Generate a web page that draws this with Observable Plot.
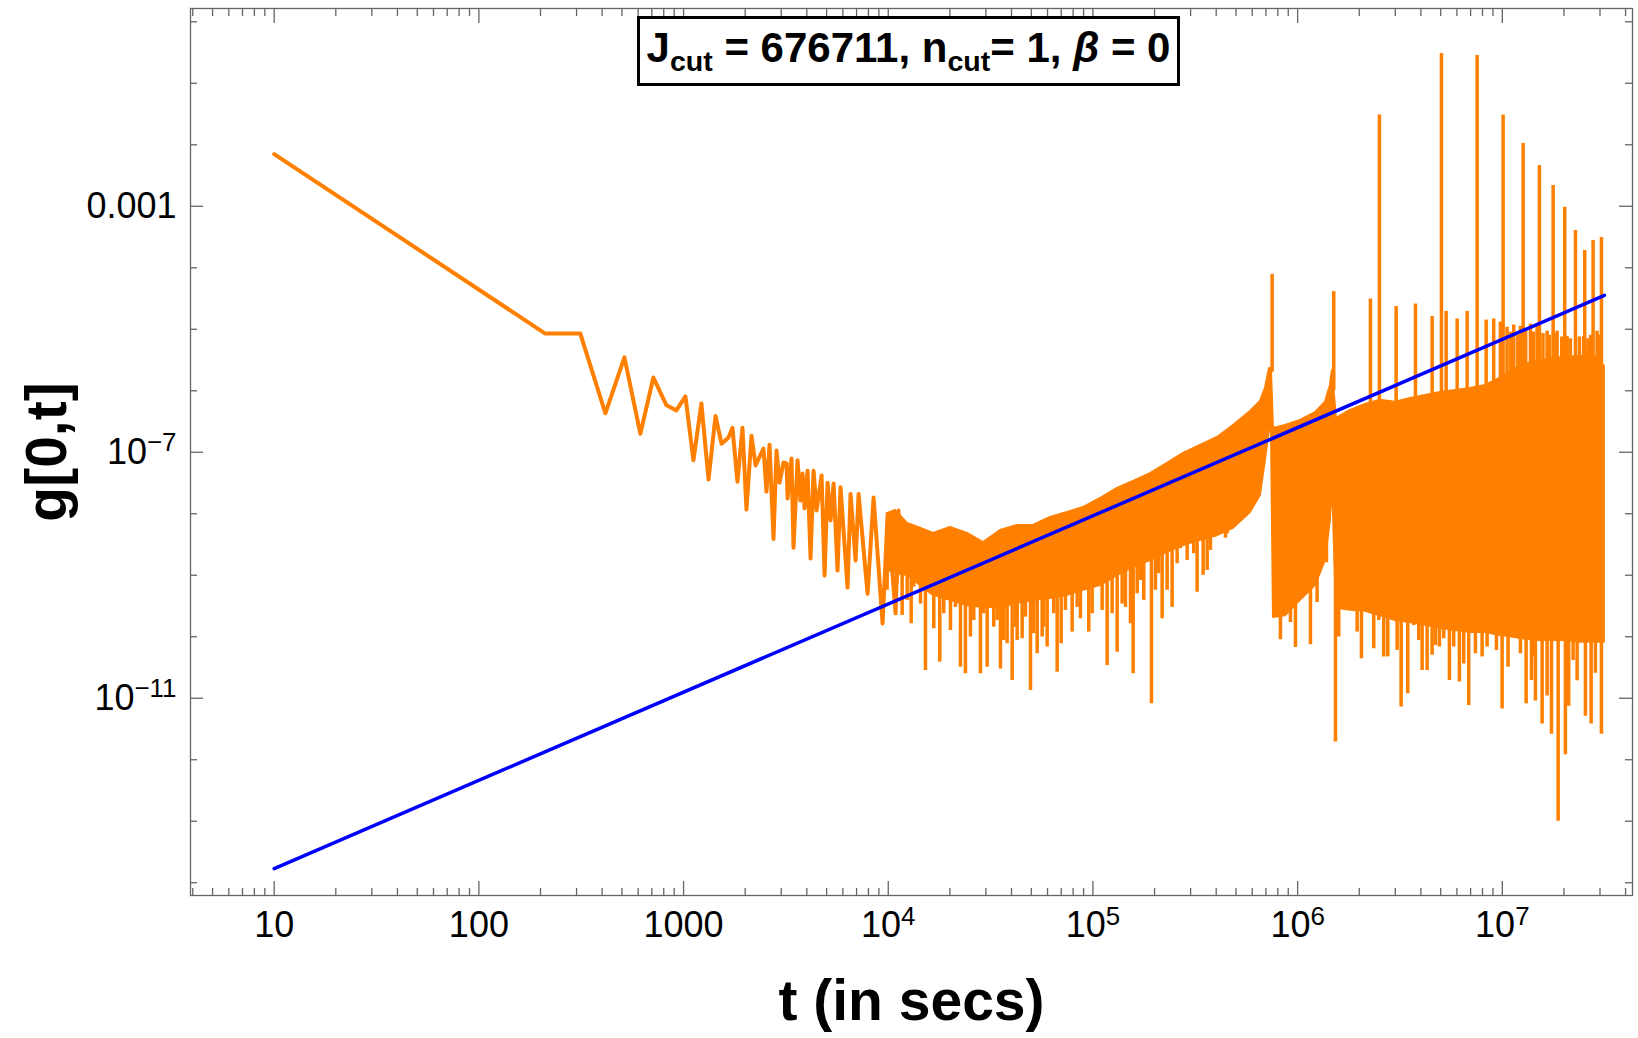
<!DOCTYPE html>
<html><head><meta charset="utf-8">
<script src="https://cdn.jsdelivr.net/npm/d3@7"></script>
<script src="https://cdn.jsdelivr.net/npm/@observablehq/plot@0.6"></script>
<style>
html,body{margin:0;padding:0;background:#fff;overflow:hidden;}
#wrap{position:relative;width:1638px;height:1038px;font-family:"Liberation Sans",Arial,sans-serif;}
#title{position:absolute;left:637px;top:16px;width:543px;height:70px;box-sizing:border-box;border:3px solid #000;background:#fff;font-weight:bold;font-size:42px;text-align:center;line-height:58px;white-space:nowrap;z-index:2;color:#000;}
#title .s{font-size:0.68em;position:relative;top:0.33em;}
</style></head>
<body><div id="wrap"><div id="title"><span>J<span class="s">cut</span> = 676711, n<span class="s">cut</span>= 1, <i>β</i> = 0</span></div></div>
<script>
// ---------- data ----------
// early part of g[0,t] (individual samples visible)
const earlyT = [10, 211, 313, 415, 514, 615, 712, 825, 922, 1021, 1117, 1222, 1324, 1432, 1532, 1657, 1733, 1833, 1940, 2029, 2147, 2248, 2457, 2541, 2630, 2750, 2845, 2943, 3078, 3185, 3221, 3367, 3444, 3605, 3724, 3811, 3900, 4034, 4172, 4316, 4465, 4722, 4885, 5053, 5227, 5407, 5651, 5845, 6325, 6542, 6923, 7161, 7925, 8477, 9382, 9930, 10860, 11230];
const earlyG = [7.06e-3, 8.5e-6, 8.5e-6, 4.3e-7, 3.5e-6, 2.0e-7, 1.64e-6, 5.8e-7, 4.8e-7, 8.1e-7, 7.4e-8, 6.2e-7, 3.6e-8, 3.9e-7, 1.38e-7, 1.73e-7, 2.5e-7, 3.3e-8, 2.5e-7, 1.17e-8, 1.86e-7, 6.1e-8, 1.15e-7, 2.3e-8, 1.33e-7, 3.9e-9, 1.07e-7, 3.2e-8, 6.8e-8, 6.6e-8, 1.77e-8, 7.9e-8, 2.8e-9, 7.4e-8, 1.64e-8, 4.5e-8, 1.22e-8, 5.0e-8, 1.87e-9, 5.0e-8, 1.13e-8, 4.2e-8, 9.9e-10, 3.2e-8, 7.8e-9, 3.1e-8, 1.19e-9, 2.7e-8, 6.3e-10, 2.1e-8, 1.73e-9, 2.1e-8, 5.0e-10, 1.83e-8, 1.64e-10, 1.0e-8, 2.4e-10, 1.13e-8];

// dense oscillating part: solid body envelope
const bodyT = [9930, 10845, 12413, 14365, 16630, 20130, 24370, 29190, 35330, 42780, 51210, 62000, 75070, 89870, 108800, 131700, 157700, 190900, 231200, 276800, 335100, 405700, 485700, 588000, 658000, 696000, 728200, 744800,
  761800, 871700, 1.032e6, 1.222e6, 1.367e6, 1.446e6, 1.479e6,
  1.547e6, 1.811e6, 2.144e6, 2.538e6, 3.005e6, 3.557e6, 4.210e6, 4.984e6, 5.901e6, 6.987e6, 8.271e6, 9.789e6, 1.095e7, 1.226e7, 1.451e7, 1.718e7, 2.033e7, 2.407e7, 2.850e7, 3.153e7];
const bodyTop = [1.0e-8, 1.13e-8, 6.95e-9, 5.8e-9, 4.8e-9, 6.0e-9, 4.8e-9, 3.4e-9, 5.35e-9, 6.45e-9, 6.45e-9, 8.7e-9, 1.05e-8, 1.26e-8, 1.77e-8, 2.58e-8, 3.35e-8, 4.5e-8, 6.6e-8, 9.6e-8, 1.29e-7, 1.74e-7, 2.73e-7, 4.6e-7, 6.7e-7, 1.09e-6, 2.31e-6, 2.31e-6,
  2.44e-7, 2.73e-7, 3.29e-7, 4.4e-7, 6.5e-7, 1.22e-6, 2.14e-6,
  3.55e-7, 4.8e-7, 6.0e-7, 7.0e-7, 6.5e-7, 7.5e-7, 8.4e-7, 9.4e-7, 1.01e-6, 1.09e-6, 1.22e-6, 1.6e-6, 2.0e-6, 2.6e-6, 3.0e-6, 3.3e-6, 3.5e-6, 3.6e-6, 3.6e-6, 2.5e-6];
const bodyBottom = [1.2e-9, 1.07e-9, 9.9e-10, 6.8e-10, 4.7e-10, 3.9e-10, 3.2e-10, 3.0e-10, 3.0e-10, 3.5e-10, 3.9e-10, 4.2e-10, 4.7e-10, 5.7e-10, 6.8e-10, 9.9e-10, 1.34e-9, 1.74e-9, 2.35e-9, 3.05e-9, 3.7e-9, 4.4e-9, 5.8e-9, 1.05e-8, 1.98e-8, 7.4e-8, 2.26e-7, 2.73e-7,
  2.06e-10, 2.2e-10, 3.9e-10, 6.8e-10, 1.74e-9, 7.8e-9, 3.5e-8,
  2.9e-10, 2.7e-10, 2.6e-10, 2.2e-10, 1.84e-10, 1.7e-10, 1.53e-10, 1.37e-10, 1.26e-10, 1.17e-10, 1.17e-10, 1.05e-10, 1.0e-10, 9.4e-11, 8.7e-11, 8.7e-11, 8.7e-11, 8.1e-11, 8.1e-11, 8.1e-11];

// downward strokes (deep dips) below the body
const dipT = [11690, 12940, 15195, 16690, 17850, 20130, 22530, 23830, 25200, 28210, 30420, 32770, 35330, 38090, 40310, 42640, 45100, 49520, 53400, 56470, 59750, 66860, 69930, 79140, 86900, 95390, 117300, 131300, 144200, 157200, 170600, 193100, 202000, 217800, 243700, 267600, 322800, 345400, 375000, 443900, 487500, 545400, 622100,
  824100, 922100, 975600, 1.155e6, 1.245e6, 1.383e6, 1.530e6,
  1.588e6, 1.811e6, 1.953e6, 2.050e6, 2.354e6, 2.490e6, 2.634e6, 2.756e6, 3.063e6, 3.203e6, 3.336e6, 3.451e6, 3.692e6, 3.905e6, 4.057e6, 4.292e6, 4.540e6, 4.711e6, 4.928e6, 5.172e6, 5.514e6, 5.787e6, 6.170e6, 6.476e6, 6.851e6, 7.390e6, 7.966e6, 8.429e6, 8.748e6, 9.359e6, 9.977e6, 1.067e7, 1.137e7, 1.226e7, 1.307e7, 1.388e7, 1.440e7,
  1.451e7, 1.565e7, 1.655e7, 1.738e7, 1.874e7, 2.033e7, 2.110e7, 2.218e7, 2.320e7, 2.547e7, 2.716e7, 2.850e7, 3.049e7];
const dipLow = [2.22e-10, 1.63e-10, 2.83e-11, 1.35e-10, 3.86e-11, 1.26e-10, 3.2e-11, 2.5e-11, 9.9e-11, 2.5e-11, 3.2e-11, 1.43e-10, 3.0e-11, 7.7e-11, 1.95e-11, 8.7e-11, 9.3e-11, 1.34e-11, 5.3e-11, 9.9e-11, 6.8e-11, 2.65e-11, 7.7e-11, 1.19e-10, 1.96e-10, 1.19e-10, 3.4e-11, 5.6e-11, 3.0e-10, 2.5e-11, 8.2e-10, 8.1e-12, 5.7e-10, 1.96e-10, 3.0e-10, 2.7e-9, 5.3e-10, 1.0e-9, 2.53e-9, 4.0e-9, 7.8e-9, 1.13e-8, 1.8e-8,
  8.9e-11, 1.7e-10, 6.7e-11, 7.4e-11, 3.6e-10, 1.6e-9, 1.95e-12,
  9.9e-11, 3.5e-10, 1.19e-10, 4.4e-11, 6.4e-11, 1.84e-10, 4.7e-11, 4.7e-11, 6.0e-11, 7.2e-12, 2.37e-10, 1.18e-11, 1.53e-10, 8.7e-11, 2.83e-11, 2.83e-11, 5.0e-11, 7.2e-11, 6.8e-11, 9.3e-11, 1.95e-11, 6.8e-11, 1.83e-11, 3.6e-11, 7.6e-12, 5.3e-11, 4.7e-11, 6.8e-11, 1.43e-10, 6.0e-11, 6.7e-12, 3.2e-11, 1.12e-10, 5.3e-11, 8.1e-12, 1.95e-11, 4.7e-11,
  9.0e-12, 3.8e-12, 1.09e-11, 2.6e-12, 1.0e-13, 1.2e-12, 7.4e-12, 4.1e-11, 1.92e-11, 5.1e-12, 3.8e-12, 2.56e-11, 2.6e-12];
const dipHigh = [5e-9, 5e-9, 4e-9, 4e-9, 4e-9, 4e-9, 4e-9, 4e-9, 4e-9, 3e-9, 3e-9, 4e-9, 4e-9, 5e-9, 5e-9, 5e-9, 5e-9, 5e-9, 6e-9, 6e-9, 7e-9, 8e-9, 8e-9, 9e-9, 1e-8, 1.2e-8, 1.5e-8, 2e-8, 2e-8, 3e-8, 3e-8, 4e-8, 4e-8, 5e-8, 6e-8, 8e-8, 1e-7, 1e-7, 1.2e-7, 2e-7, 2e-7, 3e-7, 4e-7,
  1e-7, 1e-7, 1e-7, 2e-7, 2e-7, 3e-7, 1e-7,
  1e-7, 1e-7, 1e-7, 1e-7, 1e-7, 1e-7, 1e-7, 1e-7, 1e-7, 1e-7, 1e-7, 1e-7, 1e-7, 1e-7, 1e-7, 1e-7, 1e-7, 1e-7, 1e-7, 1e-7, 1e-7, 1e-7, 1e-7, 1e-7, 1e-7, 1e-7, 1e-7, 1e-7, 1e-7, 1e-7, 1e-7, 1e-7, 1e-7, 1e-7, 1e-7, 1e-7, 1e-7,
  1e-7, 1e-7, 1e-7, 1e-7, 1e-7, 1e-7, 1e-7, 1e-7, 1e-7, 1e-7, 1e-7, 1e-7, 1e-7];

// shallower downward strokes in the 1e4 – 7e5 stretch
const shallowT = [9876, 11050, 12370, 13320, 14370, 16080, 18670, 19400, 21300, 26170, 29290, 34040, 36660, 41820, 46800, 51370, 57500, 64340, 73370, 83720, 99100, 110900, 124100, 138900, 152500, 164400, 177100, 209600, 230400, 257800, 288500, 310800, 361400, 389300, 452400, 525600];
const shallowLow = [5.7e-10, 7.3e-10, 3.9e-10, 6.4e-10, 3.4e-10, 5.0e-10, 2.37e-10, 3.9e-10, 3.0e-10, 1.84e-10, 2.37e-10, 1.84e-10, 8.7e-11, 1.43e-10, 2.08e-10, 1.12e-10, 1.43e-10, 2.37e-10, 2.68e-10, 3.0e-10, 2.37e-10, 2.68e-10, 2.37e-10, 3.4e-10, 1.63e-10, 5.0e-10, 3.9e-10, 1.06e-9, 5.7e-10, 1.54e-9, 1.74e-9, 2.24e-9, 1.2e-9, 4.2e-9, 4.7e-9, 1.0e-8];
const shallowHigh = [5e-9, 5e-9, 5e-9, 5e-9, 4e-9, 4e-9, 4e-9, 4e-9, 4e-9, 4e-9, 3e-9, 4e-9, 4e-9, 5e-9, 5e-9, 5e-9, 6e-9, 7e-9, 9e-9, 1e-8, 1.2e-8, 1.5e-8, 2e-8, 2e-8, 3e-8, 3e-8, 4e-8, 5e-8, 6e-8, 8e-8, 9e-8, 1e-7, 1.2e-7, 1.4e-7, 2e-7, 3e-7];

// upward strokes (spikes) above the body
const spikeT = [750700, 1.501e6, 2.268e6, 2.509e6, 3.029e6, 3.763e6, 4.540e6, 5.042e6, 5.316e6, 6.016e6, 6.731e6, 7.533e6, 8.337e6, 9.078e6, 9.789e6, 1.009e7, 1.055e7, 1.10e7, 1.137e7, 1.19e7, 1.226e7, 1.264e7, 1.30e7, 1.372e7, 1.42e7, 1.479e7, 1.518e7, 1.58e7, 1.655e7, 1.70e7, 1.771e7, 1.80e7, 1.852e7, 1.95e7, 2.017e7, 2.073e7, 2.15e7, 2.276e7, 2.38e7, 2.498e7, 2.527e7, 2.62e7, 2.70e7, 2.777e7, 2.905e7, 2.98e7, 3.049e7];
const spikeBase = [2e-6, 1e-6, 5e-7, 5e-7, 5e-7, 5e-7, 6e-7, 8e-7, 8e-7, 8e-7, 8e-7, 8e-7, 9e-7, 9e-7, 1.2e-6, 1.2e-6, 1.5e-6, 1.5e-6, 2e-6, 2e-6, 2e-6, 2e-6, 2e-6, 2e-6, 2e-6, 2e-6, 2e-6, 2e-6, 2e-6, 2e-6, 2e-6, 2e-6, 2e-6, 2e-6, 2e-6, 2e-6, 2e-6, 2e-6, 2e-6, 2e-6, 2e-6, 2e-6, 2e-6, 2e-6, 2e-6, 2e-6, 2e-6];
const spikeTop = [7.8e-5, 4.1e-5, 3.1e-5, 0.0304, 2.34e-5, 2.57e-5, 1.61e-5, 0.305, 1.95e-5, 1.47e-5, 1.95e-5, 0.283, 1.41e-5, 1.47e-5, 1.31e-5, 0.0304, 1.08e-5, 9e-6, 1.17e-5, 8e-6, 1.12e-5, 0.0105, 1.0e-5, 1.21e-5, 9e-6, 1.12e-5, 4.6e-3, 8.5e-6, 9.3e-6, 8e-6, 2.18e-3, 8.5e-6, 9.3e-6, 7.5e-6, 9.6e-4, 7.7e-6, 7e-6, 4.04e-4, 7.5e-6, 7.7e-6, 1.91e-4, 7e-6, 8e-6, 2.78e-4, 9.3e-6, 8e-6, 3.11e-4];

// blue reference line
const fitT = [10, 3.153e7];
const fitG = [1.7e-14, 3.55e-5];

// axis ticks and labels
const xTickValues = [10, 100, 1000, 1e4, 1e5, 1e6, 1e7];
const xTickLabels = ["10", "100", "1000", "10^4", "10^5", "10^6", "10^7"];
const yTickValues = [1e-3, 1e-7, 1e-11];
const yTickLabels = ["0.001", "10^\u22127", "10^\u221211"];

// ---------- build tables ----------
const ORANGE = "#ff8000";
const early = earlyT.map((t, i) => ({t, g: earlyG[i]}));
const body = bodyT.map((t, i) => ({t, hi: bodyTop[i], lo: bodyBottom[i]}));
const dips = dipT.map((t, i) => ({t, lo: dipLow[i], hi: dipHigh[i]}))
  .concat(shallowT.map((t, i) => ({t, lo: shallowLow[i], hi: shallowHigh[i]})));
const spikes = spikeT.map((t, i) => ({t, lo: spikeBase[i], hi: spikeTop[i]}));
const fit = fitT.map((t, i) => ({t, g: fitG[i]}));

const xDomain = [3.9, 4.325e7];
const yDomain = [6.2e-15, 1.644];
const xMinor = [];
for (let e = 0; e <= 7; e++) for (let m = 2; m <= 9; m++) {
  const v = m * 10 ** e; if (v > xDomain[0] && v < xDomain[1]) xMinor.push(v);
}
const yMinor = [];
for (let e = -14; e <= 0; e++) { const v = 10 ** e; if (!yTickValues.some(u => Math.abs(Math.log10(u) - e) < 1e-9)) yMinor.push(v); }

const TICK = "#666";
const font = "'Liberation Sans', Arial, Helvetica, sans-serif";
const blank = () => "";

const chart = Plot.plot({
  width: 1638, height: 1038,
  marginTop: 8, marginRight: 6, marginBottom: 143, marginLeft: 190,
  style: {fontFamily: font, background: "white", color: "black", overflow: "visible"},
  x: {type: "log", domain: xDomain},
  y: {type: "log", domain: yDomain},
  marks: [
    Plot.areaY(body, {x: "t", y1: "lo", y2: "hi", fill: ORANGE, stroke: ORANGE, strokeWidth: 2}),
    Plot.line(early, {x: "t", y: "g", stroke: ORANGE, strokeWidth: 4}),
    Plot.ruleX(dips, {x: "t", y1: "lo", y2: "hi", stroke: ORANGE, strokeWidth: 3.5}),
    Plot.ruleX(spikes, {x: "t", y1: "lo", y2: "hi", stroke: ORANGE, strokeWidth: 3.5}),
    Plot.line(fit, {x: "t", y: "g", stroke: "#0000ff", strokeWidth: 3.5}),
    Plot.frame({stroke: TICK, strokeWidth: 1.3}),
    // inward ticks
    Plot.axisX(xMinor, {anchor: "bottom", tickSize: -7, tickFormat: blank, stroke: TICK, strokeWidth: 1.3, label: null}),
    Plot.axisX(xTickValues, {anchor: "bottom", tickSize: -14, tickFormat: blank, stroke: TICK, strokeWidth: 1.3, label: null}),
    Plot.axisX(xMinor, {anchor: "top", tickSize: -7, tickFormat: blank, stroke: TICK, strokeWidth: 1.3, label: null}),
    Plot.axisX(xTickValues, {anchor: "top", tickSize: -14, tickFormat: blank, stroke: TICK, strokeWidth: 1.3, label: null}),
    Plot.axisY(yMinor, {anchor: "left", tickSize: -7, tickFormat: blank, stroke: TICK, strokeWidth: 1.3, label: null}),
    Plot.axisY(yTickValues, {anchor: "left", tickSize: -13, tickFormat: blank, stroke: TICK, strokeWidth: 1.3, label: null}),
    Plot.axisY(yMinor, {anchor: "right", tickSize: -8, tickFormat: blank, stroke: TICK, strokeWidth: 1.3, label: null}),
    Plot.axisY(yTickValues, {anchor: "right", tickSize: -14, tickFormat: blank, stroke: TICK, strokeWidth: 1.3, label: null}),
    // tick labels
    Plot.axisX(xTickValues, {anchor: "bottom", tickSize: 0, tickPadding: 16, fontSize: 36, fill: "black",
      tickFormat: d => xTickLabels[xTickValues.indexOf(d)], label: null}),
    Plot.axisY(yTickValues, {anchor: "left", tickSize: 0, tickPadding: 14, fontSize: 36, fill: "black",
      tickFormat: d => yTickLabels[yTickValues.indexOf(d)], label: null}),
    // axis titles
    Plot.text(["t (in secs)"], {frameAnchor: "bottom", dy: 106, lineAnchor: "middle", fontSize: 57, fontWeight: "bold", fill: "black"}),
    Plot.text(["g[0,t]"], {frameAnchor: "left", dx: -143, rotate: -90, textAnchor: "middle", lineAnchor: "middle", fontSize: 57, fontWeight: "bold", fill: "black"})
  ]
});

// render "10^k" labels with a real superscript
d3.select(chart).selectAll("text").each(function () {
  const s = this.textContent;
  const m = s.match(/^10\^(.+)$/);
  if (m) {
    const el = d3.select(this);
    el.text("");
    el.append("tspan").text("10");
    el.append("tspan").attr("dy", "-0.48em").attr("font-size", "0.72em").text(m[1]);
  }
});

document.getElementById("wrap").insertBefore(chart, document.getElementById("title"));
chart.style.position = "absolute";
chart.style.left = "0px";
chart.style.top = "0px";
</script>
</body></html>
